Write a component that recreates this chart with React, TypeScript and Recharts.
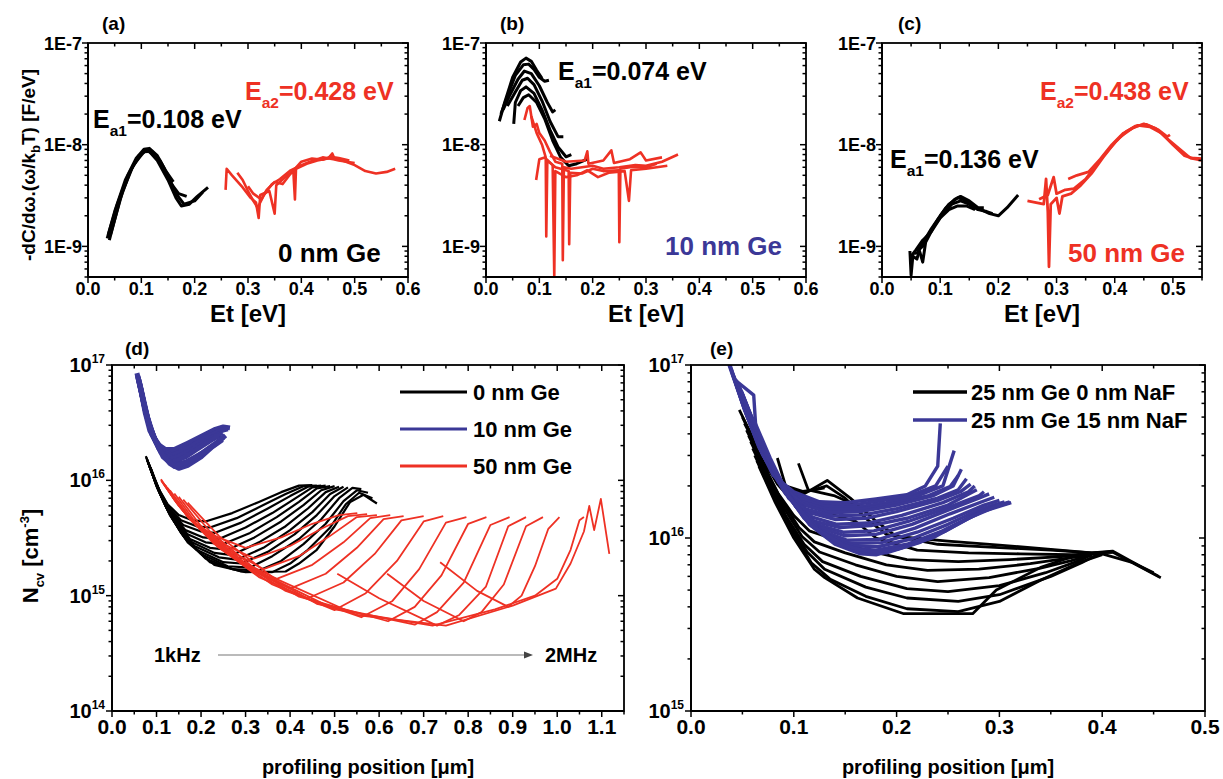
import React from 'react'
import { LineChart, Line, XAxis, YAxis } from 'recharts'

type Pt = [number, number]

const FONT = '"Liberation Sans", Arial, Helvetica, sans-serif'
const RED = '#ee3124'
const BLUE = '#3b3897'

// ---------- ticks ----------
const xTicks06 = [0, 0.05, 0.1, 0.15, 0.2, 0.25, 0.3, 0.35, 0.4, 0.45, 0.5, 0.55, 0.6]
const xTicks055 = [0, 0.05, 0.1, 0.15, 0.2, 0.25, 0.3, 0.35, 0.4, 0.45, 0.5, 0.55]
const xTicksD = [0, 0.05, 0.1, 0.15, 0.2, 0.25, 0.3, 0.35, 0.4, 0.45, 0.5, 0.55, 0.6, 0.65, 0.7, 0.75, 0.8, 0.85, 0.9, 0.95, 1.0, 1.05, 1.1, 1.15]
const xTicksE = [0, 0.05, 0.1, 0.15, 0.2, 0.25, 0.3, 0.35, 0.4, 0.45, 0.5]
const yTicksTop = [5e-10, 6e-10, 7e-10, 8e-10, 9e-10, 1e-9, 2e-9, 3e-9, 4e-9, 5e-9, 6e-9, 7e-9, 8e-9, 9e-9, 1e-8, 2e-8, 3e-8, 4e-8, 5e-8, 6e-8, 7e-8, 8e-8, 9e-8, 1e-7]
const yTicksD = [1e14, 2e14, 3e14, 4e14, 5e14, 6e14, 7e14, 8e14, 9e14, 1e15, 2e15, 3e15, 4e15, 5e15, 6e15, 7e15, 8e15, 9e15, 1e16, 2e16, 3e16, 4e16, 5e16, 6e16, 7e16, 8e16, 9e16, 1e17]
const yTicksE = [1e15, 2e15, 3e15, 4e15, 5e15, 6e15, 7e15, 8e15, 9e15, 1e16, 2e16, 3e16, 4e16, 5e16, 6e16, 7e16, 8e16, 9e16, 1e17]

// ---------- (a) 0 nm Ge ----------
const aBlack: Pt[][] = [
  [[0.036, 1.2e-9], [0.05, 2.2e-9], [0.07, 4.5e-9], [0.09, 7.3e-9], [0.105, 9e-9], [0.115, 9.2e-9], [0.13, 7.8e-9], [0.145, 5.6e-9], [0.16, 4.3e-9]],
  [[0.038, 1.3e-9], [0.055, 2.6e-9], [0.075, 5e-9], [0.095, 7.8e-9], [0.11, 8.8e-9], [0.125, 8e-9], [0.14, 6e-9], [0.155, 4.2e-9], [0.17, 3.3e-9], [0.185, 3.1e-9]],
  [[0.04, 1.15e-9], [0.06, 2.9e-9], [0.08, 5.6e-9], [0.1, 8.2e-9], [0.112, 8.9e-9], [0.13, 7e-9], [0.15, 4.5e-9], [0.165, 3e-9], [0.175, 2.5e-9], [0.19, 2.6e-9], [0.205, 3.1e-9], [0.225, 3.8e-9]],
  [[0.042, 1.3e-9], [0.065, 3.5e-9], [0.085, 6.3e-9], [0.105, 8.5e-9], [0.12, 8.6e-9], [0.135, 7e-9], [0.15, 5e-9], [0.165, 3.3e-9], [0.18, 2.6e-9], [0.2, 2.8e-9], [0.215, 3.4e-9]],
]
const aRed: Pt[][] = [
  [[0.258, 3.6e-9], [0.26, 5.8e-9], [0.27, 5e-9], [0.29, 3.8e-9], [0.305, 3e-9], [0.315, 2.7e-9], [0.32, 1.9e-9], [0.323, 3.2e-9], [0.34, 3.5e-9], [0.35, 2.1e-9], [0.353, 4e-9], [0.37, 4.8e-9], [0.385, 5.5e-9], [0.388, 2.9e-9], [0.39, 5.8e-9], [0.41, 6.5e-9], [0.43, 7e-9], [0.45, 7.3e-9], [0.458, 8.2e-9], [0.462, 7.3e-9], [0.48, 6.9e-9], [0.5, 6.3e-9], [0.52, 5.5e-9], [0.54, 5.2e-9], [0.56, 5.4e-9], [0.576, 5.8e-9]],
  [[0.28, 5.3e-9], [0.29, 4.5e-9], [0.3, 3.5e-9], [0.31, 2.8e-9], [0.318, 2.4e-9], [0.33, 3.2e-9], [0.345, 4.1e-9], [0.36, 4.6e-9], [0.38, 5.6e-9], [0.4, 6.3e-9], [0.42, 6.9e-9], [0.44, 7.5e-9], [0.46, 7.2e-9], [0.47, 7e-9], [0.5, 6.6e-9]],
  [[0.3, 3.9e-9], [0.31, 3.3e-9], [0.325, 2.9e-9], [0.335, 3.6e-9], [0.35, 4.3e-9], [0.365, 4.1e-9], [0.38, 5.2e-9], [0.4, 6.8e-9], [0.42, 7.3e-9], [0.44, 7.1e-9], [0.455, 7.6e-9], [0.47, 7.4e-9], [0.49, 7e-9]],
]

// ---------- (b) 10 nm Ge ----------
const bBlack: Pt[][] = [
  [[0.025, 1.7e-8], [0.035, 2.6e-8], [0.05, 4.6e-8], [0.065, 6.5e-8], [0.075, 7.1e-8], [0.085, 6.6e-8], [0.095, 5.4e-8], [0.105, 4.5e-8]],
  [[0.028, 2e-8], [0.04, 3e-8], [0.055, 4.8e-8], [0.07, 6.1e-8], [0.08, 6.2e-8], [0.09, 5.5e-8], [0.1, 4.6e-8], [0.11, 4.2e-8], [0.118, 4.3e-8]],
  [[0.032, 2.2e-8], [0.045, 3.1e-8], [0.06, 4.4e-8], [0.072, 5.3e-8], [0.085, 5e-8], [0.1, 3.8e-8], [0.115, 2.6e-8], [0.125, 2.1e-8], [0.13, 2.2e-8]],
  [[0.04, 2.4e-8], [0.055, 3.3e-8], [0.068, 4.3e-8], [0.078, 4.5e-8], [0.09, 3.9e-8], [0.105, 2.7e-8], [0.12, 1.7e-8], [0.135, 1.2e-8], [0.145, 1.2e-8]],
  [[0.052, 1.6e-8], [0.055, 2.6e-8], [0.065, 3.4e-8], [0.075, 3.7e-8], [0.09, 3.2e-8], [0.105, 2.2e-8], [0.12, 1.4e-8], [0.135, 9.5e-9], [0.15, 7.6e-9], [0.16, 8e-9]],
  [[0.06, 2.4e-8], [0.07, 2.9e-8], [0.08, 3.1e-8], [0.095, 2.6e-8], [0.11, 1.8e-8], [0.125, 1.1e-8], [0.14, 7.5e-9], [0.155, 6.2e-9], [0.17, 6.5e-9], [0.19, 7.2e-9]],
]
const bRed: Pt[][] = [
  [[0.072, 1.75e-8], [0.078, 2.3e-8], [0.082, 2.4e-8], [0.088, 1.5e-8], [0.095, 1.6e-8], [0.1, 1.3e-8], [0.11, 1.1e-8], [0.12, 8.5e-9], [0.13, 6.8e-9], [0.143, 6.5e-9], [0.144, 7.3e-10], [0.146, 6e-9], [0.16, 5.8e-9], [0.18, 6e-9], [0.2, 6.2e-9], [0.22, 5.8e-9], [0.25, 6e-9], [0.28, 6.3e-9], [0.3, 6.2e-9], [0.33, 6.8e-9], [0.36, 8e-9]],
  [[0.085, 1.9e-8], [0.095, 1.3e-8], [0.105, 1e-8], [0.112, 7.5e-9], [0.113, 1.25e-9], [0.115, 7e-9], [0.13, 6e-9], [0.155, 5.5e-9], [0.156, 1.05e-9], [0.158, 5.3e-9], [0.18, 5.2e-9], [0.2, 5.8e-9], [0.22, 5.5e-9], [0.249, 5.6e-9], [0.25, 1.1e-9], [0.252, 5.8e-9], [0.27, 6e-9], [0.3, 6e-9], [0.32, 6.5e-9]],
  [[0.094, 4.5e-9], [0.1, 7.2e-9], [0.11, 7.5e-9], [0.125, 6.3e-9], [0.128, 5e-10], [0.13, 5.5e-9], [0.15, 4.8e-9], [0.17, 5e-9], [0.19, 5.6e-9], [0.21, 4.8e-9], [0.23, 5.3e-9], [0.26, 5.5e-9], [0.268, 2.8e-9], [0.272, 5.6e-9], [0.3, 5.8e-9], [0.34, 6.2e-9]],
  [[0.12, 7.8e-9], [0.15, 6.8e-9], [0.185, 7e-9], [0.19, 8.6e-9], [0.192, 6.5e-9], [0.22, 7e-9], [0.235, 8.8e-9], [0.24, 6.6e-9], [0.27, 7.2e-9], [0.29, 8.4e-9], [0.3, 7e-9], [0.33, 7.5e-9]],
]

// ---------- (c) 50 nm Ge ----------
const cBlack: Pt[][] = [
  [[0.048, 9e-10], [0.05, 5.2e-10], [0.053, 8e-10], [0.06, 7.5e-10], [0.065, 9.5e-10], [0.075, 1.2e-9], [0.085, 1.5e-9], [0.1, 2e-9], [0.115, 2.6e-9], [0.13, 3e-9], [0.14, 2.9e-9], [0.155, 2.5e-9], [0.17, 2.3e-9], [0.185, 2.1e-9], [0.2, 2e-9], [0.215, 2.4e-9], [0.234, 3.2e-9]],
  [[0.055, 8.5e-10], [0.065, 8.8e-10], [0.07, 7e-10], [0.075, 1.1e-9], [0.09, 1.6e-9], [0.105, 2.1e-9], [0.12, 2.6e-9], [0.135, 2.8e-9], [0.15, 2.6e-9], [0.165, 2.3e-9], [0.18, 2.2e-9], [0.19, 2.1e-9]],
  [[0.06, 9e-10], [0.07, 1e-9], [0.08, 1.3e-9], [0.095, 1.8e-9], [0.11, 2.4e-9], [0.125, 2.9e-9], [0.135, 3.1e-9], [0.15, 2.8e-9], [0.165, 2.4e-9], [0.175, 2.4e-9]],
  [[0.05, 8e-10], [0.058, 9.2e-10], [0.07, 1.15e-9], [0.085, 1.4e-9], [0.1, 1.9e-9], [0.115, 2.3e-9], [0.13, 2.5e-9], [0.145, 2.5e-9], [0.16, 2.3e-9]],
]
const cRed: Pt[][] = [
  [[0.25, 2.8e-9], [0.265, 2.7e-9], [0.278, 2.6e-9], [0.282, 4.6e-9], [0.285, 2.2e-9], [0.287, 6.3e-10], [0.29, 2.6e-9], [0.3, 3e-9], [0.305, 2.1e-9], [0.31, 3.1e-9], [0.325, 3.3e-9], [0.34, 3.9e-9], [0.36, 5.2e-9], [0.38, 7.5e-9], [0.4, 1.05e-8], [0.42, 1.35e-8], [0.44, 1.55e-8], [0.46, 1.5e-8], [0.48, 1.3e-8], [0.5, 1e-8], [0.52, 7.8e-9], [0.535, 7.3e-9], [0.55, 7e-9]],
  [[0.27, 2.9e-9], [0.285, 3.2e-9], [0.295, 4.8e-9], [0.3, 3.3e-9], [0.315, 3.6e-9], [0.33, 3.7e-9], [0.35, 4.6e-9], [0.37, 6.5e-9], [0.39, 9e-9], [0.41, 1.2e-8], [0.43, 1.45e-8], [0.45, 1.6e-8], [0.47, 1.45e-8], [0.49, 1.15e-8], [0.51, 9.2e-9], [0.53, 7.4e-9], [0.55, 7.3e-9]],
  [[0.32, 4.6e-9], [0.335, 5e-9], [0.355, 5.4e-9], [0.375, 7.2e-9], [0.395, 1e-8], [0.415, 1.3e-8], [0.435, 1.52e-8], [0.455, 1.58e-8], [0.475, 1.4e-8], [0.49, 1.2e-8], [0.495, 1.25e-8]],
]

// ---------- (d) N_cv profiles ----------
const dBlack: Pt[][] = [
  [[0.076, 1.62e16], [0.09, 1.15e16], [0.105, 8.4e15], [0.125, 6.2e15], [0.15, 5e15], [0.18, 4.5e15], [0.21, 4.4e15], [0.27, 5.2e15], [0.33, 6.5e15], [0.38, 7.9e15], [0.42, 9e15], [0.45, 9.1e15]],
  [[0.077, 1.58e16], [0.092, 1.1e16], [0.108, 8e15], [0.128, 5.8e15], [0.155, 4.5e15], [0.19, 4e15], [0.22, 3.9e15], [0.28, 4.7e15], [0.34, 6.1e15], [0.39, 7.6e15], [0.43, 8.9e15], [0.46, 9e15]],
  [[0.078, 1.55e16], [0.093, 1.07e16], [0.11, 7.6e15], [0.13, 5.5e15], [0.16, 4.1e15], [0.2, 3.6e15], [0.23, 3.5e15], [0.29, 4.3e15], [0.35, 5.7e15], [0.4, 7.3e15], [0.44, 8.8e15], [0.47, 9e15]],
  [[0.079, 1.5e16], [0.095, 1.03e16], [0.112, 7.2e15], [0.133, 5.2e15], [0.165, 3.7e15], [0.205, 3.2e15], [0.24, 3.1e15], [0.3, 3.9e15], [0.36, 5.2e15], [0.41, 6.9e15], [0.45, 8.7e15], [0.48, 9e15]],
  [[0.08, 1.47e16], [0.096, 1e16], [0.114, 6.9e15], [0.136, 4.9e15], [0.17, 3.4e15], [0.21, 2.9e15], [0.25, 2.8e15], [0.31, 3.5e15], [0.37, 4.8e15], [0.42, 6.5e15], [0.46, 8.5e15], [0.49, 8.9e15]],
  [[0.081, 1.44e16], [0.097, 9.7e15], [0.116, 6.6e15], [0.14, 4.6e15], [0.175, 3.1e15], [0.22, 2.6e15], [0.26, 2.5e15], [0.32, 3.2e15], [0.38, 4.4e15], [0.43, 6.1e15], [0.47, 8.2e15], [0.5, 8.9e15]],
  [[0.082, 1.41e16], [0.098, 9.4e15], [0.118, 6.3e15], [0.143, 4.3e15], [0.18, 2.9e15], [0.23, 2.35e15], [0.27, 2.25e15], [0.33, 2.9e15], [0.39, 4e15], [0.44, 5.7e15], [0.48, 7.9e15], [0.51, 8.8e15]],
  [[0.083, 1.38e16], [0.1, 9e15], [0.12, 6e15], [0.146, 4.1e15], [0.185, 2.7e15], [0.24, 2.15e15], [0.28, 2.05e15], [0.34, 2.6e15], [0.4, 3.7e15], [0.45, 5.3e15], [0.49, 7.6e15], [0.52, 8.8e15]],
  [[0.084, 1.35e16], [0.101, 8.7e15], [0.122, 5.8e15], [0.15, 3.8e15], [0.19, 2.5e15], [0.25, 1.95e15], [0.29, 1.9e15], [0.35, 2.4e15], [0.41, 3.4e15], [0.46, 5e15], [0.5, 7.3e15], [0.53, 8.7e15]],
  [[0.085, 1.32e16], [0.103, 8.4e15], [0.125, 5.5e15], [0.155, 3.5e15], [0.2, 2.3e15], [0.26, 1.8e15], [0.31, 1.75e15], [0.36, 2.2e15], [0.42, 3.1e15], [0.47, 4.6e15], [0.51, 7e15], [0.54, 8.6e15], [0.56, 8.4e15]],
  [[0.086, 1.3e16], [0.105, 8.1e15], [0.128, 5.2e15], [0.16, 3.3e15], [0.21, 2.1e15], [0.27, 1.7e15], [0.33, 1.65e15], [0.38, 2e15], [0.43, 2.8e15], [0.48, 4.2e15], [0.52, 6.6e15], [0.55, 8.2e15], [0.575, 7.8e15]],
  [[0.087, 1.27e16], [0.107, 7.8e15], [0.13, 5e15], [0.165, 3.1e15], [0.22, 1.95e15], [0.29, 1.62e15], [0.36, 1.6e15], [0.4, 1.9e15], [0.44, 2.5e15], [0.49, 3.9e15], [0.525, 6.2e15], [0.555, 7.8e15], [0.585, 7e15]],
  [[0.088, 1.25e16], [0.11, 7.5e15], [0.135, 4.7e15], [0.17, 2.9e15], [0.23, 1.85e15], [0.3, 1.6e15], [0.39, 1.62e15], [0.42, 1.9e15], [0.46, 2.5e15], [0.5, 4e15], [0.535, 6.5e15], [0.565, 7.5e15], [0.595, 6.3e15]],
]
const dBlue: Pt[][] = [
  [[0.056, 8.5e16], [0.065, 6e16], [0.075, 3.8e16], [0.085, 2.7e16], [0.1, 2.1e16], [0.12, 1.85e16], [0.14, 1.85e16], [0.17, 2.1e16], [0.2, 2.4e16], [0.23, 2.75e16], [0.25, 2.9e16], [0.265, 2.85e16]],
  [[0.057, 8.2e16], [0.067, 5.5e16], [0.078, 3.6e16], [0.09, 2.5e16], [0.108, 1.95e16], [0.128, 1.75e16], [0.15, 1.75e16], [0.18, 2e16], [0.21, 2.3e16], [0.24, 2.65e16], [0.258, 2.85e16]],
  [[0.058, 8e16], [0.07, 5e16], [0.08, 3.4e16], [0.095, 2.3e16], [0.115, 1.8e16], [0.135, 1.65e16], [0.16, 1.8e16], [0.19, 2.1e16], [0.22, 2.45e16], [0.245, 2.7e16], [0.26, 2.8e16]],
  [[0.059, 7.8e16], [0.071, 4.8e16], [0.083, 3.1e16], [0.098, 2.2e16], [0.118, 1.7e16], [0.138, 1.55e16], [0.162, 1.7e16], [0.19, 1.95e16], [0.22, 2.3e16], [0.248, 2.6e16]],
  [[0.06, 7.5e16], [0.072, 4.5e16], [0.085, 2.9e16], [0.1, 2.1e16], [0.12, 1.6e16], [0.14, 1.45e16], [0.165, 1.6e16], [0.19, 1.85e16], [0.22, 2.2e16], [0.245, 2.5e16]],
  [[0.061, 7.2e16], [0.074, 4.2e16], [0.088, 2.7e16], [0.105, 1.9e16], [0.125, 1.5e16], [0.145, 1.36e16], [0.168, 1.45e16], [0.2, 1.7e16], [0.23, 2.05e16], [0.25, 2.35e16]],
  [[0.062, 7e16], [0.075, 4e16], [0.09, 2.5e16], [0.11, 1.75e16], [0.13, 1.4e16], [0.15, 1.27e16], [0.17, 1.35e16], [0.2, 1.6e16], [0.225, 1.95e16], [0.248, 2.25e16]],
  [[0.064, 6.5e16], [0.08, 3.5e16], [0.095, 2.3e16], [0.115, 1.6e16], [0.14, 1.32e16], [0.16, 1.4e16], [0.185, 1.55e16], [0.21, 1.8e16], [0.235, 2.1e16], [0.255, 2.45e16]],
]
const dRed: Pt[][] = [
  [[0.11, 1.02e16], [0.14, 6.8e15], [0.18, 4.4e15], [0.23, 3.3e15], [0.3, 2.6e15], [0.38, 3.2e15], [0.45, 4.2e15], [0.51, 5e15], [0.551, 5.2e15]],
  [[0.11, 1e16], [0.145, 6.4e15], [0.19, 4e15], [0.25, 2.8e15], [0.32, 2.1e15], [0.4, 2.7e15], [0.47, 3.8e15], [0.53, 4.9e15], [0.573, 5.1e15]],
  [[0.112, 9.8e15], [0.15, 6e15], [0.2, 3.7e15], [0.27, 2.4e15], [0.34, 1.7e15], [0.42, 2.2e15], [0.49, 3.3e15], [0.55, 4.8e15], [0.595, 5e15]],
  [[0.115, 9.5e15], [0.155, 5.7e15], [0.21, 3.4e15], [0.29, 2e15], [0.37, 1.4e15], [0.45, 1.85e15], [0.52, 2.9e15], [0.58, 4.7e15], [0.625, 5e15]],
  [[0.118, 9.2e15], [0.16, 5.4e15], [0.22, 3.1e15], [0.31, 1.7e15], [0.4, 1.15e15], [0.48, 1.55e15], [0.55, 2.6e15], [0.61, 4.6e15], [0.655, 4.9e15]],
  [[0.12, 9e15], [0.165, 5.1e15], [0.23, 2.8e15], [0.33, 1.45e15], [0.44, 9.5e14], [0.52, 1.3e15], [0.59, 2.3e15], [0.65, 4.5e15], [0.7, 4.9e15]],
  [[0.125, 8.6e15], [0.17, 4.8e15], [0.24, 2.6e15], [0.36, 1.25e15], [0.5, 7.5e14], [0.57, 1.05e15], [0.64, 2e15], [0.7, 4.4e15], [0.744, 4.9e15]],
  [[0.13, 8.2e15], [0.18, 4.5e15], [0.26, 2.35e15], [0.39, 1.1e15], [0.56, 6.5e14], [0.63, 9e14], [0.69, 1.7e15], [0.75, 4.3e15], [0.796, 4.8e15]],
  [[0.14, 7.7e15], [0.19, 4.2e15], [0.28, 2.1e15], [0.42, 9.8e14], [0.62, 6e14], [0.68, 8e14], [0.74, 1.5e15], [0.8, 4.2e15], [0.841, 4.8e15]],
  [[0.15, 7.2e15], [0.2, 4e15], [0.3, 1.9e15], [0.46, 8.5e14], [0.68, 5.6e14], [0.73, 7.2e14], [0.79, 1.3e15], [0.85, 4.1e15], [0.893, 4.8e15]],
  [[0.506, 1.55e15], [0.6, 9.5e14], [0.73, 5.5e14], [0.78, 6.8e14], [0.84, 1.2e15], [0.89, 4e15], [0.93, 4.8e15]],
  [[0.618, 1.55e15], [0.7, 9e14], [0.79, 6e14], [0.83, 7.2e14], [0.88, 1.25e15], [0.93, 4e15], [0.968, 4.8e15]],
  [[0.737, 1.95e15], [0.82, 1.1e15], [0.89, 8e14], [0.92, 1e15], [0.95, 1.8e15], [0.98, 3.8e15], [1.005, 4.8e15]],
  [[0.16, 6.8e15], [0.22, 3.6e15], [0.33, 1.6e15], [0.5, 7.6e14], [0.72, 5.5e14], [0.86, 7.6e14], [0.95, 1e15], [1.0, 1.4e15], [1.03, 2.5e15], [1.05, 4.5e15], [1.06, 4.8e15]],
  [[0.17, 6.4e15], [0.24, 3.3e15], [0.36, 1.45e15], [0.55, 6.8e14], [0.75, 5.5e14], [0.9, 8.2e14], [0.997, 1.15e15], [1.03, 1.9e15], [1.06, 3.6e15], [1.072, 6e15], [1.083, 3.7e15], [1.098, 6.9e15], [1.117, 2.3e15]],
]

// ---------- (e) NaF comparison ----------
const eBlack: Pt[][] = [
  [[0.047, 5.5e16], [0.06, 3.8e16], [0.075, 2.5e16], [0.09, 1.9e16], [0.11, 1.8e16], [0.1325, 2.15e16], [0.155, 1.7e16], [0.18, 1.25e16], [0.2, 1.02e16], [0.25, 9.6e15], [0.3, 9.1e15], [0.35, 8.6e15], [0.39, 8.2e15], [0.41, 8.3e15], [0.435, 6.9e15], [0.457, 5.9e15]],
  [[0.05, 5e16], [0.065, 3.3e16], [0.08, 2.3e16], [0.095, 1.95e16], [0.105, 1.85e16], [0.12, 1.9e16], [0.132, 2e16], [0.15, 1.7e16], [0.17, 1.3e16], [0.19, 1.05e16], [0.24, 9.2e15], [0.3, 8.8e15], [0.35, 8.5e15], [0.39, 8.2e15], [0.41, 8.4e15], [0.44, 6.7e15], [0.455, 6e15]],
  [[0.052, 4.6e16], [0.068, 3e16], [0.084, 2.05e16], [0.1, 1.6e16], [0.115, 1.4e16], [0.14, 1.35e16], [0.16, 1.25e16], [0.18, 1e16], [0.22, 8.5e15], [0.27, 8.2e15], [0.32, 8.1e15], [0.37, 8e15], [0.4, 8.1e15], [0.43, 7.2e15], [0.45, 6.3e15]],
  [[0.054, 4.2e16], [0.07, 2.7e16], [0.085, 1.8e16], [0.1, 1.35e16], [0.115, 1.1e16], [0.14, 9.8e15], [0.17, 8.5e15], [0.21, 7.5e15], [0.26, 7.3e15], [0.31, 7.5e15], [0.36, 7.8e15], [0.39, 8e15]],
  [[0.056, 3.9e16], [0.072, 2.5e16], [0.088, 1.65e16], [0.105, 1.15e16], [0.12, 9.5e15], [0.15, 8.2e15], [0.19, 7e15], [0.23, 6.5e15], [0.28, 6.6e15], [0.33, 7.1e15], [0.37, 7.7e15], [0.39, 8e15]],
  [[0.058, 3.6e16], [0.074, 2.3e16], [0.09, 1.5e16], [0.108, 1.02e16], [0.125, 8.3e15], [0.16, 7e15], [0.2, 6e15], [0.24, 5.6e15], [0.29, 5.9e15], [0.34, 6.7e15], [0.37, 7.4e15], [0.39, 8e15]],
  [[0.06, 3.3e16], [0.076, 2.1e16], [0.092, 1.35e16], [0.11, 9.2e15], [0.128, 7.3e15], [0.165, 6e15], [0.21, 5.1e15], [0.25, 4.9e15], [0.3, 5.3e15], [0.345, 6.3e15], [0.375, 7.3e15], [0.39, 8e15]],
  [[0.062, 3e16], [0.078, 1.9e16], [0.094, 1.25e16], [0.113, 8.3e15], [0.13, 6.6e15], [0.17, 5.2e15], [0.21, 4.5e15], [0.26, 4.3e15], [0.3, 4.7e15], [0.35, 6e15], [0.38, 7.2e15], [0.395, 8e15]],
  [[0.064, 2.8e16], [0.08, 1.75e16], [0.096, 1.15e16], [0.117, 7.2e15], [0.135, 5.8e15], [0.17, 4.6e15], [0.21, 3.9e15], [0.26, 3.75e15], [0.3, 4.3e15], [0.34, 5.7e15], [0.38, 7.3e15], [0.4, 8e15]],
  [[0.066, 2.6e16], [0.082, 1.6e16], [0.1, 1e16], [0.12, 6.6e15], [0.13, 5.9e15], [0.162, 4.5e15], [0.207, 3.65e15], [0.274, 3.65e15], [0.297, 5e15], [0.341, 6.8e15], [0.379, 8.1e15], [0.41, 8.3e15]],
  [[0.084, 2.9e16], [0.092, 2e16], [0.11, 1.85e16], [0.13, 1.95e16]],
  [[0.1045, 2.7e16], [0.114, 1.9e16], [0.14, 1.75e16], [0.16, 1.55e16]],
]
const eBlue: Pt[][] = [
  [[0.037, 1e17], [0.05, 6e16], [0.065, 3.5e16], [0.08, 2.3e16], [0.1, 1.85e16], [0.125, 1.62e16], [0.15, 1.6e16], [0.18, 1.68e16], [0.21, 1.78e16], [0.228, 2e16], [0.24, 2.6e16], [0.2425, 4.6e16]],
  [[0.0375, 1e17], [0.051, 5.8e16], [0.066, 3.35e16], [0.083, 2.2e16], [0.102, 1.78e16], [0.128, 1.57e16], [0.155, 1.55e16], [0.185, 1.64e16], [0.215, 1.77e16], [0.238, 2e16], [0.25, 2.6e16]],
  [[0.038, 1e17], [0.052, 5.5e16], [0.068, 3.2e16], [0.085, 2.1e16], [0.105, 1.7e16], [0.13, 1.52e16], [0.16, 1.5e16], [0.19, 1.6e16], [0.22, 1.75e16], [0.245, 2e16], [0.256, 3.2e16]],
  [[0.039, 9.5e16], [0.054, 5.2e16], [0.069, 3.1e16], [0.088, 2e16], [0.108, 1.62e16], [0.133, 1.46e16], [0.162, 1.46e16], [0.195, 1.57e16], [0.23, 1.75e16], [0.252, 1.98e16], [0.26, 2.3e16]],
  [[0.04, 9e16], [0.055, 5e16], [0.07, 3e16], [0.09, 1.95e16], [0.11, 1.55e16], [0.135, 1.4e16], [0.165, 1.42e16], [0.2, 1.55e16], [0.235, 1.75e16], [0.255, 2e16], [0.263, 2.5e16]],
  [[0.041, 8.8e16], [0.057, 4.8e16], [0.072, 2.9e16], [0.091, 1.85e16], [0.112, 1.47e16], [0.138, 1.34e16], [0.168, 1.36e16], [0.2, 1.48e16], [0.24, 1.7e16], [0.26, 1.9e16], [0.268, 2.2e16]],
  [[0.042, 8.5e16], [0.058, 4.7e16], [0.073, 2.8e16], [0.092, 1.8e16], [0.115, 1.4e16], [0.14, 1.28e16], [0.17, 1.3e16], [0.2, 1.42e16], [0.24, 1.65e16], [0.262, 1.85e16], [0.272, 2.05e16]],
  [[0.044, 8.2e16], [0.06, 4.5e16], [0.076, 2.7e16], [0.094, 1.75e16], [0.118, 1.32e16], [0.142, 1.2e16], [0.172, 1.22e16], [0.205, 1.35e16], [0.245, 1.6e16], [0.27, 1.85e16], [0.276, 2e16]],
  [[0.045, 8e16], [0.061, 6.7e16], [0.063, 4.4e16], [0.078, 2.6e16], [0.095, 1.7e16], [0.12, 1.25e16], [0.145, 1.15e16], [0.175, 1.18e16], [0.21, 1.3e16], [0.25, 1.55e16], [0.278, 1.9e16]],
  [[0.046, 7.8e16], [0.063, 4.2e16], [0.08, 2.5e16], [0.098, 1.65e16], [0.122, 1.2e16], [0.148, 1.08e16], [0.178, 1.1e16], [0.212, 1.25e16], [0.25, 1.5e16], [0.28, 1.75e16], [0.285, 1.85e16]],
  [[0.047, 7.5e16], [0.065, 4e16], [0.082, 2.4e16], [0.1, 1.6e16], [0.125, 1.15e16], [0.15, 1.03e16], [0.18, 1.05e16], [0.215, 1.2e16], [0.25, 1.45e16], [0.28, 1.7e16], [0.29, 1.8e16]],
  [[0.049, 7.1e16], [0.066, 3.85e16], [0.083, 2.3e16], [0.102, 1.52e16], [0.128, 1.1e16], [0.152, 9.7e15], [0.182, 9.8e15], [0.218, 1.14e16], [0.252, 1.38e16], [0.283, 1.62e16], [0.295, 1.72e16]],
  [[0.05, 6.8e16], [0.068, 3.7e16], [0.085, 2.2e16], [0.105, 1.45e16], [0.13, 1.05e16], [0.155, 9.3e15], [0.185, 9.4e15], [0.22, 1.08e16], [0.255, 1.3e16], [0.285, 1.55e16], [0.3, 1.65e16]],
  [[0.051, 6.5e16], [0.069, 3.55e16], [0.086, 2.1e16], [0.108, 1.38e16], [0.132, 1.01e16], [0.158, 9e15], [0.182, 8.9e15], [0.215, 9.9e15], [0.25, 1.2e16], [0.283, 1.48e16], [0.305, 1.62e16]],
  [[0.052, 6.2e16], [0.07, 3.4e16], [0.088, 2e16], [0.11, 1.3e16], [0.135, 9.8e15], [0.16, 8.7e15], [0.18, 8.5e15], [0.21, 9.2e15], [0.245, 1.1e16], [0.28, 1.4e16], [0.3115, 1.6e16]],
  [[0.055, 5.5e16], [0.072, 3.1e16], [0.09, 1.9e16], [0.115, 1.2e16], [0.14, 9.2e15], [0.165, 8.1e15], [0.18, 8e15], [0.211, 9e15], [0.248, 1.1e16], [0.285, 1.45e16], [0.31, 1.62e16]],
  [[0.057, 5.2e16], [0.074, 3e16], [0.092, 1.82e16], [0.117, 1.18e16], [0.145, 9.1e15], [0.17, 8.2e15], [0.19, 8.2e15], [0.222, 9.4e15], [0.258, 1.2e16], [0.292, 1.5e16], [0.31, 1.6e16]],
  [[0.06, 5e16], [0.077, 2.9e16], [0.095, 1.75e16], [0.12, 1.15e16], [0.15, 9e15], [0.175, 8.3e15], [0.2, 8.6e15], [0.235, 1e16], [0.27, 1.3e16], [0.3, 1.55e16], [0.31, 1.6e16]],
]

const toXY = (c: Pt[]) => c.map(([x, y]) => ({ x, y }))
const near = (a: number, list: number[]) => list.some(m => Math.abs(m - a) < 1e-9)
const isDecade = (v: number) => Math.abs(Math.log10(v) - Math.round(Math.log10(v))) < 1e-6

const ML = 70, MR = 24, MT = 12, MB = 40

type PanelProps = {
  pl: number; pt: number; pw: number; ph: number
  xDomain: [number, number]; yDomain: [number, number]
  xTicks: number[]; yTicks: number[]
  xFs: number; xDy: number; yKind: 'E' | 'pow'
  groups: { curves: Pt[][]; color: string; width: number }[]
}

function Panel({ pl, pt, pw, ph, xDomain, yDomain, xTicks, yTicks, xFs, xDy, yKind, groups }: PanelProps) {
  const xMajors = xTicks.filter(v => Math.abs(v * 10 - Math.round(v * 10)) < 1e-6)
  const xTick = (props: any) => {
    const { x, y, payload } = props
    const v = payload.value
    const major = near(v, xMajors)
    const len = major ? 6 : 3.5
    return (
      <g>
        <line x1={x} y1={y} x2={x} y2={y + len} stroke="#000" strokeWidth={1.5} />
        <line x1={x} y1={y - ph} x2={x} y2={y - ph + len} stroke="#000" strokeWidth={1.5} />
        {major && (
          <text x={x} y={y + xDy} textAnchor="middle" fontFamily={FONT} fontWeight="bold" fontSize={xFs} fill="#000">
            {v.toFixed(1)}
          </text>
        )}
      </g>
    )
  }
  const yTick = (props: any) => {
    const { x, y, payload } = props
    const v = payload.value
    const major = isDecade(v)
    const len = major ? 6 : 3.5
    const e = Math.round(Math.log10(v))
    return (
      <g>
        <line x1={x - len} y1={y} x2={x} y2={y} stroke="#000" strokeWidth={1.5} />
        <line x1={x + pw - len} y1={y} x2={x + pw} y2={y} stroke="#000" strokeWidth={1.5} />
        {major && yKind === 'E' && (
          <text x={x - 6} y={y + 6.5} textAnchor="end" fontFamily={FONT} fontWeight="bold" fontSize={18} fill="#000">
            {`1E${e}`}
          </text>
        )}
        {major && yKind === 'pow' && (
          <text x={x - 7} y={y + 7} textAnchor="end" fontFamily={FONT} fontWeight="bold" fontSize={20} fill="#000">
            10<tspan fontSize={12} dy={-9}>{e}</tspan>
          </text>
        )}
      </g>
    )
  }
  return (
    <div style={{ position: 'absolute', left: pl - ML, top: pt - MT }}>
      <LineChart width={ML + pw + MR} height={MT + ph + MB} margin={{ top: MT, right: MR, bottom: 0, left: 0 }}>
        <XAxis type="number" dataKey="x" domain={xDomain} ticks={xTicks} interval={0} allowDataOverflow
          height={MB} tickSize={0} tickMargin={0} tickLine={false} axisLine={{ stroke: '#000', strokeWidth: 1.8 }} tick={xTick} />
        <YAxis type="number" dataKey="y" scale="log" domain={yDomain} ticks={yTicks} interval={0} allowDataOverflow
          width={ML} tickSize={0} tickMargin={0} tickLine={false} axisLine={{ stroke: '#000', strokeWidth: 1.8 }} tick={yTick} />
        {groups.flatMap((g, gi) =>
          g.curves.map((c, i) => (
            <Line key={`${gi}-${i}`} data={toXY(c)} dataKey="y" type="linear" stroke={g.color} strokeWidth={g.width}
              dot={false} activeDot={false} isAnimationActive={false} strokeLinejoin="round" />
          ))
        )}
      </LineChart>
    </div>
  )
}

const B = { fontFamily: FONT, fontWeight: 'bold' as const }

function Ea({ x, y, sub, val, color, fs = 24 }: { x: number; y: number; sub: string; val: string; color: string; fs?: number }) {
  return (
    <text x={x} y={y} fill={color} fontSize={fs} {...B}>
      E<tspan fontSize={fs * 0.62} dy={8}>{sub}</tspan><tspan dy={-8}>{val}</tspan>
    </text>
  )
}

// plot frames: [left, top, width, height]
const frames: [number, number, number, number][] = [
  [88, 43, 320, 234], [486, 43, 320, 234], [882, 43, 320, 234], [112, 365, 512, 346], [691, 365, 514, 346],
]

export default function App() {
  const topY: [number, number] = [5e-10, 1e-7]
  return (
    <div style={{ position: 'absolute', left: 0, top: 0, width: 1223, height: 779, background: '#fff' }}>
      <Panel pl={88} pt={43} pw={320} ph={234} xDomain={[0, 0.6]} yDomain={topY} xTicks={xTicks06} yTicks={yTicksTop}
        xFs={18} xDy={18} yKind="E"
        groups={[{ curves: aBlack, color: '#000', width: 3 }, { curves: aRed, color: RED, width: 2.6 }]} />
      <Panel pl={486} pt={43} pw={320} ph={234} xDomain={[0, 0.6]} yDomain={topY} xTicks={xTicks06} yTicks={yTicksTop}
        xFs={18} xDy={18} yKind="E"
        groups={[{ curves: bBlack, color: '#000', width: 3 }, { curves: bRed, color: RED, width: 2.6 }]} />
      <Panel pl={882} pt={43} pw={320} ph={234} xDomain={[0, 0.55]} yDomain={topY} xTicks={xTicks055} yTicks={yTicksTop}
        xFs={18} xDy={18} yKind="E"
        groups={[{ curves: cBlack, color: '#000', width: 3 }, { curves: cRed, color: RED, width: 2.8 }]} />
      <Panel pl={112} pt={365} pw={512} ph={346} xDomain={[0, 1.15]} yDomain={[1e14, 1e17]} xTicks={xTicksD} yTicks={yTicksD}
        xFs={21} xDy={23} yKind="pow"
        groups={[
          { curves: dBlack, color: '#000', width: 2.2 },
          { curves: dRed, color: RED, width: 1.8 },
          { curves: dBlue, color: BLUE, width: 5 },
        ]} />
      <Panel pl={691} pt={365} pw={514} ph={346} xDomain={[0, 0.5]} yDomain={[1e15, 1e17]} xTicks={xTicksE} yTicks={yTicksE}
        xFs={21} xDy={23} yKind="pow"
        groups={[{ curves: eBlack, color: '#000', width: 2.8 }, { curves: eBlue, color: BLUE, width: 3.4 }]} />

      <svg width={1223} height={779} style={{ position: 'absolute', left: 0, top: 0, pointerEvents: 'none' }}>
        {frames.map(([x, y, w, h], i) => (
          <rect key={i} x={x} y={y} width={w} height={h} fill="none" stroke="#000" strokeWidth={1.8} />
        ))}

        {/* panel letters */}
        <text x={102} y={30} fontSize={19} {...B}>(a)</text>
        <text x={500} y={30} fontSize={19} {...B}>(b)</text>
        <text x={898} y={30} fontSize={19} {...B}>(c)</text>
        <text x={125} y={355} fontSize={19} {...B}>(d)</text>
        <text x={710} y={355} fontSize={19} {...B}>(e)</text>

        {/* top row titles */}
        {[248, 646, 1042].map(cx => (
          <text key={cx} x={cx} y={322} fontSize={24} textAnchor="middle" {...B}>Et [eV]</text>
        ))}
        <text transform="translate(35,165) rotate(-90)" textAnchor="middle" fontSize={19} {...B}>
          -dC/dω.(ω/k<tspan fontSize={13} dy={5}>b</tspan><tspan dy={-5}>T) [F/eV]</tspan>
        </text>

        {/* annotations */}
        <Ea x={93} y={128} sub="a1" val="=0.108 eV" color="#000" fs={25} />
        <Ea x={245} y={100} sub="a2" val="=0.428 eV" color={RED} fs={25} />
        <text x={278} y={262} fontSize={26} {...B}>0 nm Ge</text>
        <Ea x={558} y={80} sub="a1" val="=0.074 eV" color="#000" fs={25} />
        <text x={665} y={255} fontSize={26} fill={BLUE} {...B}>10 nm Ge</text>
        <Ea x={1040} y={100} sub="a2" val="=0.438 eV" color={RED} fs={25} />
        <Ea x={890} y={168} sub="a1" val="=0.136 eV" color="#000" fs={25} />
        <text x={1068} y={262} fontSize={26} fill={RED} {...B}>50 nm Ge</text>

        {/* bottom titles */}
        <text x={368} y={774} fontSize={20} textAnchor="middle" {...B}>profiling position [μm]</text>
        <text x={948} y={774} fontSize={20} textAnchor="middle" {...B}>profiling position [μm]</text>
        <text transform="translate(38,556) rotate(-90)" textAnchor="middle" fontSize={22} {...B}>
          N<tspan fontSize={13} dy={6}>cv</tspan><tspan dy={-6}> [cm</tspan><tspan fontSize={13} dy={-9}>-3</tspan><tspan dy={9}>]</tspan>
        </text>

        {/* legend (d) */}
        <line x1={400} y1={392} x2={467} y2={392} stroke="#000" strokeWidth={3} />
        <text x={473} y={400} fontSize={22} {...B}>0 nm Ge</text>
        <line x1={400} y1={429} x2={467} y2={429} stroke={BLUE} strokeWidth={3} />
        <text x={473} y={437} fontSize={22} {...B}>10 nm Ge</text>
        <line x1={400} y1={466} x2={467} y2={466} stroke={RED} strokeWidth={3} />
        <text x={473} y={474} fontSize={22} {...B}>50 nm Ge</text>

        {/* frequency arrow (d) */}
        <text x={154} y={662} fontSize={20} {...B}>1kHz</text>
        <line x1={218} y1={655} x2={526} y2={655} stroke="#777" strokeWidth={1.2} />
        <polygon points="533,655 524,651.5 524,658.5" fill="#444" />
        <text x={545} y={662} fontSize={20} {...B}>2MHz</text>

        {/* legend (e) */}
        <line x1={913} y1={392} x2={967} y2={392} stroke="#000" strokeWidth={3.5} />
        <text x={971} y={400} fontSize={22} {...B}>25 nm Ge 0 nm NaF</text>
        <line x1={913} y1={420} x2={967} y2={420} stroke={BLUE} strokeWidth={3.5} />
        <text x={971} y={428} fontSize={22} {...B}>25 nm Ge 15 nm NaF</text>
      </svg>
    </div>
  )
}
